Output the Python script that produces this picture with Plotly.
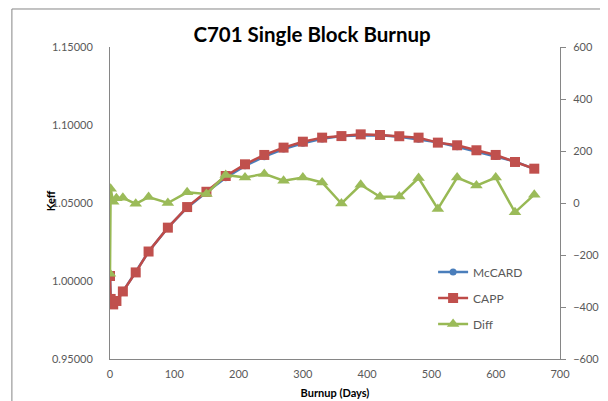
import plotly.graph_objects as go

days = [0, 1, 5, 10, 20, 40, 60, 90, 120, 150, 180, 210, 240, 270, 300, 330,
        360, 390, 420, 450, 480, 510, 540, 570, 600, 630, 660]
capp = [1.0032, 0.9885, 0.9850, 0.9872, 0.9933, 1.0055, 1.0189, 1.0342, 1.0474,
        1.0572, 1.0673, 1.0748, 1.0808, 1.0855, 1.0893, 1.0919, 1.0929, 1.0940,
        1.0936, 1.0928, 1.0919, 1.0887, 1.0870, 1.0838, 1.0808, 1.0763, 1.0720]
mccard = [1.0040, 0.9880, 0.9850, 0.9870, 0.9931, 1.0055, 1.0187, 1.0342, 1.0470,
          1.0568, 1.0662, 1.0738, 1.0797, 1.0846, 1.0883, 1.0911, 1.0929, 1.0933,
          1.0934, 1.0925, 1.0909, 1.0889, 1.0860, 1.0831, 1.0798, 1.0767, 1.0717]
diff = [-272, 55, 5, 18, 20, -3, 23, 0, 41, 35, 108, 98, 112, 86, 98, 79,
        -2, 70, 24, 25, 96, -23, 98, 67, 98, -36, 32]

FONT = "Lato"
GRAY = "#595959"
LINE = "#868686"

fig = go.Figure()
fig.add_trace(go.Scatter(x=days, y=mccard, name="McCARD", mode="lines+markers",
                         line=dict(color="#4A7EBB", width=2.5),
                         marker=dict(symbol="circle", size=7, color="#4A7EBB"),
                         legendgroup="a"))
fig.add_trace(go.Scatter(x=days, y=capp, name="CAPP", mode="lines+markers",
                         line=dict(color="#BE4B48", width=2.5),
                         marker=dict(symbol="square", size=10, color="#C0504D"),
                         legendgroup="b"))
fig.add_trace(go.Scatter(x=days, y=diff, name="Diff", mode="lines+markers", yaxis="y2",
                         line=dict(color="#98B954", width=2.5),
                         marker=dict(symbol="triangle-up", size=11, color="#9BBB59"),
                         legendgroup="c"))

fig.update_layout(
    width=608, height=401,
    margin=dict(l=102, r=56, t=39, b=50, autoexpand=False),
    paper_bgcolor="white", plot_bgcolor="white",
    font=dict(family=FONT, size=11, color=GRAY),
    title=dict(text="<b>C701 Single Block Burnup</b>", x=0.449, xanchor="center",
               y=0.9327, yanchor="middle", xref="paper", yref="container",
               automargin=False,
               font=dict(family=FONT, size=20.5, color="black")),
    xaxis=dict(range=[0, 700], dtick=100, showgrid=False, zeroline=False,
               showline=True, linecolor=LINE, linewidth=1, ticks="",
               ticklabelstandoff=5, automargin=False,
               title=dict(text="<b>Burnup (Days)</b>", standoff=10,
                          font=dict(family=FONT, size=11, color="black"))),
    yaxis=dict(range=[0.95, 1.15], dtick=0.05, tickformat=".5f", showgrid=False,
               zeroline=False, showline=True, linecolor=LINE, linewidth=1, ticks="",
               ticklabelstandoff=14, automargin=False),
    yaxis2=dict(range=[-600, 600], dtick=200, overlaying="y", side="right",
                showgrid=False, zeroline=False, showline=True, linecolor=LINE,
                linewidth=1, ticks="outside", ticklen=5, tickcolor=LINE,
                ticklabelstandoff=5, automargin=False),
    legend=dict(x=0.718, y=0.325, xanchor="left", yanchor="top",
                bgcolor="rgba(0,0,0,0)", tracegroupgap=7,
                font=dict(family=FONT, size=12, color=GRAY)),
    showlegend=True,
)

fig.add_annotation(text="<b>Keff</b>", textangle=-90, xref="paper", yref="paper",
                   x=-0.1333, y=0.506, showarrow=False, xanchor="center",
                   yanchor="middle", font=dict(family=FONT, size=11, color="black"))

# outer chart frame
fig.add_shape(type="line", xref="paper", yref="paper", x0=-0.218, x1=1.3,
              y0=1.1218, y1=1.1218, line=dict(color=LINE, width=1))
fig.add_shape(type="line", xref="paper", yref="paper", x0=-0.218, x1=-0.218,
              y0=-0.3, y1=1.1218, line=dict(color=LINE, width=1))

fig.write_html("out.html")
